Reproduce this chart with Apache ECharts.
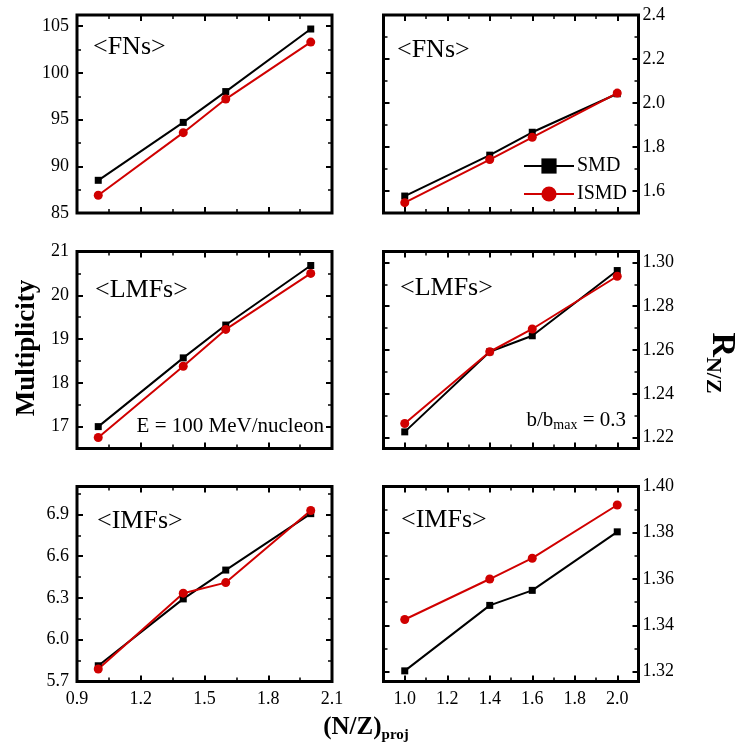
<!DOCTYPE html>
<html>
<head>
<meta charset="utf-8">
<script src="https://cdn.jsdelivr.net/npm/echarts@6/dist/echarts.min.js"></script>
<style>
  html, body { margin: 0; padding: 0; background: #fff; }
  #chart { width: 740px; height: 754px; }
</style>
</head>
<body>
<div id="chart"></div>
<script>
// (N/Z)_proj values
const xValues = [1.0, 1.4, 1.6, 2.0];

// multiplicities (left column)
const fnsMultSMD = [88.5, 94.7, 98.0, 104.7];
const fnsMultISMD = [86.9, 93.6, 97.2, 103.3];
const lmfsMultSMD = [17.0, 18.57, 19.32, 20.68];
const lmfsMultISMD = [16.75, 18.38, 19.22, 20.50];
const imfsMultSMD = [5.813, 6.293, 6.50, 6.905];
const imfsMultISMD = [5.79, 6.334, 6.41, 6.928];

// R_N/Z (right column)
const fnsRatioSMD = [1.577, 1.763, 1.867, 2.042];
const fnsRatioISMD = [1.547, 1.743, 1.844, 2.045];
const lmfsRatioSMD = [1.2226, 1.2592, 1.2665, 1.2963];
const lmfsRatioISMD = [1.2264, 1.2592, 1.2696, 1.2937];
const imfsRatioSMD = [1.3203, 1.3486, 1.3551, 1.3804];
const imfsRatioISMD = [1.3425, 1.3600, 1.3690, 1.3920];

// tick labels
const leftXTicks = [0.9, 1.2, 1.5, 1.8, 2.1];
const leftXMinor = [1.05, 1.35, 1.65, 1.95];
const rightXTicks = [1.0, 1.2, 1.4, 1.6, 1.8, 2.0];
const rightXMinor = [1.1, 1.3, 1.5, 1.7, 1.9];
const fnsMultTicks = [85, 90, 95, 100, 105];
const fnsMultMinor = [87.5, 92.5, 97.5, 102.5];
const lmfsMultTicks = [17, 18, 19, 20, 21];
const lmfsMultMinor = [16.5, 17.5, 18.5, 19.5, 20.5];
const imfsMultTicks = [5.7, 6.0, 6.3, 6.6, 6.9];
const imfsMultMinor = [5.85, 6.15, 6.45, 6.75, 7.05];
const fnsRatioTicks = [1.6, 1.8, 2.0, 2.2, 2.4];
const fnsRatioMinor = [1.7, 1.9, 2.1, 2.3];
const lmfsRatioTicks = [1.22, 1.24, 1.26, 1.28, 1.30];
const lmfsRatioMinor = [1.23, 1.25, 1.27, 1.29];
const imfsRatioTicks = [1.32, 1.34, 1.36, 1.38, 1.40];
const imfsRatioMinor = [1.33, 1.35, 1.37, 1.39];

const FONT = 'Liberation Serif';
const RED = '#d00000';

const panels = [
  { box: { left: 77, top: 15, width: 255, height: 198 }, side: 'left', xt: leftXTicks, xm: leftXMinor, xl: false,
    yMin: 85, yMax: 106.2, yt: fnsMultTicks, ym: fnsMultMinor, yd: 0, smd: fnsMultSMD, ismd: fnsMultISMD },
  { box: { left: 383.5, top: 15, width: 255, height: 198 }, side: 'right', xt: rightXTicks, xm: rightXMinor, xl: false,
    yMin: 1.5, yMax: 2.4, yt: fnsRatioTicks, ym: fnsRatioMinor, yd: 1, smd: fnsRatioSMD, ismd: fnsRatioISMD },
  { box: { left: 77, top: 251.5, width: 255, height: 197 }, side: 'left', xt: leftXTicks, xm: leftXMinor, xl: false,
    yMin: 16.5, yMax: 21, yt: lmfsMultTicks, ym: lmfsMultMinor, yd: 0, smd: lmfsMultSMD, ismd: lmfsMultISMD },
  { box: { left: 383.5, top: 251.5, width: 255, height: 197 }, side: 'right', xt: rightXTicks, xm: rightXMinor, xl: false,
    yMin: 1.215, yMax: 1.305, yt: lmfsRatioTicks, ym: lmfsRatioMinor, yd: 2, smd: lmfsRatioSMD, ismd: lmfsRatioISMD },
  { box: { left: 77, top: 486.5, width: 255, height: 195 }, side: 'left', xt: leftXTicks, xm: leftXMinor, xl: true,
    yMin: 5.7, yMax: 7.1, yt: imfsMultTicks, ym: imfsMultMinor, yd: 1, smd: imfsMultSMD, ismd: imfsMultISMD },
  { box: { left: 383.5, top: 486.5, width: 255, height: 195 }, side: 'right', xt: rightXTicks, xm: rightXMinor, xl: true,
    yMin: 1.3157, yMax: 1.40, yt: imfsRatioTicks, ym: imfsRatioMinor, yd: 2, smd: imfsRatioSMD, ismd: imfsRatioISMD }
];

function makeAxis(gi, pos, min, max, ticks, isMajor, showLabel, digits, margin) {
  return {
    gridIndex: gi, type: 'value', position: pos, min: min, max: max,
    axisLine: { show: false, onZero: false },
    splitLine: { show: false },
    axisTick: {
      show: true, inside: true, length: isMajor ? 6 : 4, customValues: ticks,
      lineStyle: { color: '#000', width: isMajor ? 2 : 1.5 }
    },
    axisLabel: {
      show: showLabel, customValues: ticks, margin: margin,
      color: '#000', fontFamily: FONT, fontSize: 18,
      formatter: function (v) { return Number(v).toFixed(digits); }
    }
  };
}

const grids = [], xAxes = [], yAxes = [], series = [];
panels.forEach(function (p, i) {
  grids.push(Object.assign({ show: true, borderColor: '#000', borderWidth: 3, backgroundColor: 'transparent' }, p.box));
  const xi = xAxes.length, yi = yAxes.length;
  xAxes.push(makeAxis(i, 'bottom', 0.9, 2.1, p.xt, true, p.xl, 1, 9));
  xAxes.push(makeAxis(i, 'bottom', 0.9, 2.1, p.xm, false, false, 1, 9));
  xAxes.push(makeAxis(i, 'top', 0.9, 2.1, p.xt, true, false, 1, 9));
  xAxes.push(makeAxis(i, 'top', 0.9, 2.1, p.xm, false, false, 1, 9));
  const other = p.side === 'left' ? 'right' : 'left';
  yAxes.push(makeAxis(i, p.side, p.yMin, p.yMax, p.yt, true, true, p.yd, p.side === 'left' ? 8 : 4));
  yAxes.push(makeAxis(i, p.side, p.yMin, p.yMax, p.ym, false, false, p.yd, 8));
  yAxes.push(makeAxis(i, other, p.yMin, p.yMax, p.yt, true, false, p.yd, 8));
  yAxes.push(makeAxis(i, other, p.yMin, p.yMax, p.ym, false, false, p.yd, 8));
  series.push({
    name: 'SMD', type: 'line', xAxisIndex: xi, yAxisIndex: yi,
    data: xValues.map(function (x, k) { return [x, p.smd[k]]; }),
    symbol: 'rect', symbolSize: 7, color: '#000',
    lineStyle: { color: '#000', width: 2 }, itemStyle: { color: '#000' }
  });
  series.push({
    name: 'ISMD', type: 'line', xAxisIndex: xi, yAxisIndex: yi,
    data: xValues.map(function (x, k) { return [x, p.ismd[k]]; }),
    symbol: 'circle', symbolSize: 9, color: RED,
    lineStyle: { color: RED, width: 2 }, itemStyle: { color: RED }
  });
});

function label(x, y, txt, size, extra) {
  return {
    type: 'text', x: x, y: y,
    style: Object.assign({ text: txt, fill: '#000', fontFamily: FONT, fontSize: size,
      align: 'left', verticalAlign: 'middle' }, extra || {})
  };
}

const graphics = [
  label(93, 47, '<FNs>', 26),
  label(397, 50, '<FNs>', 26),
  label(95, 290, '<LMFs>', 26),
  label(400, 288, '<LMFs>', 26),
  label(97, 521, '<IMFs>', 26),
  label(401, 520, '<IMFs>', 26),
  label(324, 426, 'E = 100 MeV/nucleon', 21, { align: 'right' }),
  {
    type: 'text', x: 626, y: 420,
    style: {
      text: '{a|b/b}{s|max}{a| = 0.3}', align: 'right', verticalAlign: 'middle', fill: '#000',
      rich: {
        a: { fontFamily: FONT, fontSize: 21, fill: '#000', lineHeight: 24 },
        s: { fontFamily: FONT, fontSize: 14, fill: '#000', lineHeight: 24, padding: [11, 0, 0, 0] }
      }
    }
  },
  {
    type: 'text', x: 27, y: 348, rotation: Math.PI / 2,
    style: { text: 'Multiplicity', fill: '#000', fontFamily: FONT, fontSize: 27, fontWeight: 'bold',
      align: 'center', verticalAlign: 'middle' }
  },
  {
    type: 'text', x: 366, y: 728,
    style: {
      text: '{a|(N/Z)}{s|proj}', align: 'center', verticalAlign: 'middle', fill: '#000',
      rich: {
        a: { fontFamily: FONT, fontSize: 25, fontWeight: 'bold', fill: '#000', lineHeight: 30 },
        s: { fontFamily: FONT, fontSize: 15, fontWeight: 'bold', fill: '#000', lineHeight: 30, padding: [14, 0, 0, 0] }
      }
    }
  },
  {
    type: 'text', x: 722, y: 363, rotation: -Math.PI / 2,
    style: {
      text: '{r|R}{s|N/Z}', align: 'center', verticalAlign: 'middle', fill: '#000',
      rich: {
        r: { fontFamily: FONT, fontSize: 34, fontWeight: 'bold', fill: '#000', lineHeight: 40 },
        s: { fontFamily: FONT, fontSize: 22, fontWeight: 'bold', fill: '#000', lineHeight: 40, padding: [18, 0, 0, 0] }
      }
    }
  }
];

const chart = echarts.init(document.getElementById('chart'), null, { renderer: 'canvas' });
chart.setOption({
  animation: false,
  backgroundColor: '#fff',
  grid: grids,
  xAxis: xAxes,
  yAxis: yAxes,
  legend: {
    data: ['SMD', 'ISMD'], orient: 'vertical', left: 523, top: 156, padding: 0,
    itemWidth: 50, itemHeight: 19, itemGap: 8, selectedMode: false,
    textStyle: { color: '#000', fontFamily: FONT, fontSize: 20, padding: [0, 0, 0, -2] }
  },
  series: series,
  graphic: graphics
});
</script>
</body>
</html>
